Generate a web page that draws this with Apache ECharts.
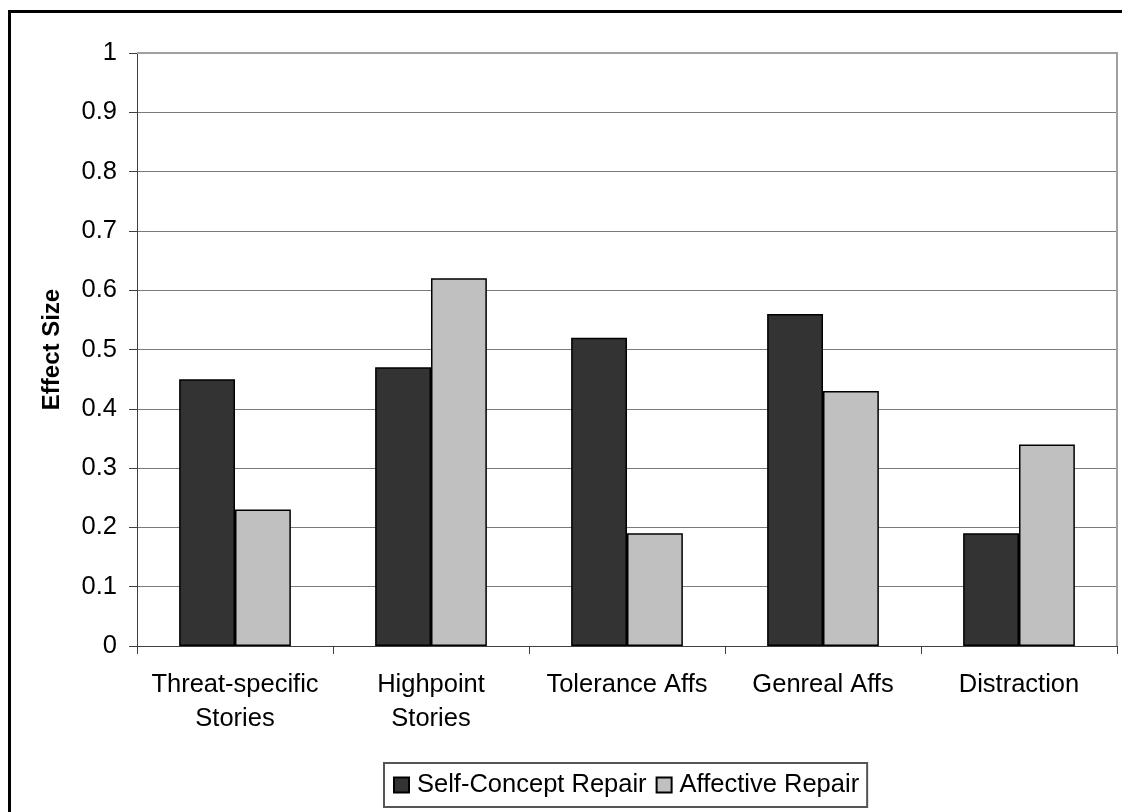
<!DOCTYPE html>
<html>
<head>
<meta charset="utf-8">
<script src="https://cdn.jsdelivr.net/npm/echarts@6/dist/echarts.min.js"></script>
<style>
  html, body { margin: 0; padding: 0; background: #fff; }
  #chart { width: 1122px; height: 812px; }
</style>
</head>
<body>
<div id="chart"></div>
<script>
// Intervention categories (two-line labels)
const categories = [
  'Threat-specific\nStories',
  'Highpoint\nStories',
  'Tolerance Affs',
  'Genreal Affs',
  'Distraction'
];
// Effect sizes per repair type
const selfConceptRepair = [0.45, 0.47, 0.52, 0.56, 0.19];
const affectiveRepair = [0.23, 0.62, 0.19, 0.43, 0.34];
const seriesNames = ['Self-Concept Repair', 'Affective Repair'];
const yAxisTitle = 'Effect Size';

const FONT = '"Liberation Sans", Arial, sans-serif';
const FS = 25.5;
const chart = echarts.init(document.getElementById('chart'));

chart.setOption({
  animation: false,
  backgroundColor: '#ffffff',
  textStyle: { fontFamily: FONT },
  graphic: [
    {
      type: 'rect',
      shape: { x: 9.5, y: 11.5, width: 1200, height: 900 },
      style: { fill: 'none', stroke: '#000', lineWidth: 3 },
      silent: true
    },
    {
      type: 'polyline',
      shape: { points: [[137, 53], [1117, 53], [1117, 646]] },
      style: { fill: 'none', stroke: '#a0a0a0', lineWidth: 2 },
      silent: true,
      z: 10
    }
  ],
  grid: { left: 137, right: 5, top: 53, bottom: 166, containLabel: false },
  legend: {
    data: seriesNames,
    left: 384,
    top: 763,
    orient: 'horizontal',
    itemWidth: 15,
    itemHeight: 15,
    itemGap: 9,
    padding: [9, 8, 9, 9],
    borderColor: '#555',
    borderWidth: 2,
    textStyle: { fontSize: FS, color: '#000', fontFamily: FONT, padding: [0, 0, 0, 3] },
    icon: 'rect'
  },
  xAxis: {
    type: 'category',
    data: categories,
    axisLine: { lineStyle: { color: '#404040', width: 1 } },
    axisTick: { show: true, length: 8, lineStyle: { color: '#404040' } },
    axisLabel: { fontSize: FS, color: '#000', margin: 22, lineHeight: 34, interval: 0, fontFamily: FONT }
  },
  yAxis: {
    type: 'value',
    min: 0,
    max: 1,
    interval: 0.1,
    name: yAxisTitle,
    nameLocation: 'middle',
    nameGap: 73,
    nameRotate: 90,
    nameTextStyle: { fontSize: 24, fontWeight: 'bold', color: '#000', fontFamily: FONT },
    axisLine: { show: true, lineStyle: { color: '#404040', width: 1 } },
    axisTick: { show: true, length: 8, lineStyle: { color: '#404040' } },
    axisLabel: {
      fontSize: FS, color: '#000', margin: 20, fontFamily: FONT,
      formatter: v => String(Math.round(v * 10) / 10)
    },
    splitLine: { show: true, lineStyle: { color: '#7a7a7a', width: 1 } }
  },
  series: [
    {
      name: seriesNames[0],
      type: 'bar',
      data: selfConceptRepair,
      barGap: '0%',
      barCategoryGap: '43%',
      itemStyle: { color: '#333333', borderColor: '#000', borderWidth: 1.5 }
    },
    {
      name: seriesNames[1],
      type: 'bar',
      data: affectiveRepair,
      itemStyle: { color: '#c0c0c0', borderColor: '#000', borderWidth: 1.5 }
    }
  ]
});
</script>
</body>
</html>
